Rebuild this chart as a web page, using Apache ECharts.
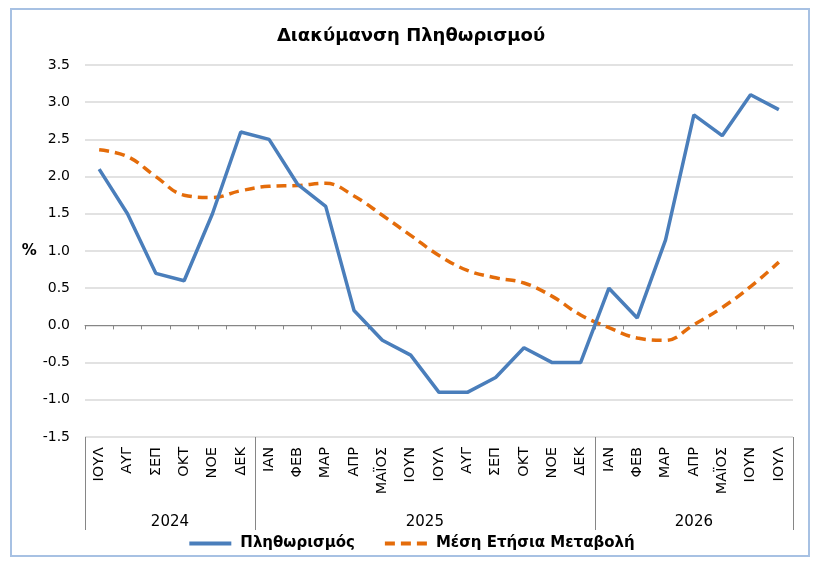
<!DOCTYPE html>
<html lang="el">
<head>
    <meta charset="utf-8">
    <title>Διακύμανση Πληθωρισμού</title>
    <script src="https://cdn.jsdelivr.net/npm/echarts@6/dist/echarts.min.js"></script>
    <style>
        html, body { margin: 0; padding: 0; background: #fff; }
        #main { width: 822px; height: 570px; }
    </style>
</head>
<body>
    <div id="main"></div>
    <script type="text/javascript">
        // μήνες (Ιούλ 2024 - Ιούλ 2026)
        var months = ['ΙΟΥΛ', 'ΑΥΓ', 'ΣΕΠ', 'ΟΚΤ', 'ΝΟΕ', 'ΔΕΚ',
            'ΙΑΝ', 'ΦΕΒ', 'ΜΑΡ', 'ΑΠΡ', 'ΜΑΪΟΣ', 'ΙΟΥΝ', 'ΙΟΥΛ', 'ΑΥΓ', 'ΣΕΠ', 'ΟΚΤ', 'ΝΟΕ', 'ΔΕΚ',
            'ΙΑΝ', 'ΦΕΒ', 'ΜΑΡ', 'ΑΠΡ', 'ΜΑΪΟΣ', 'ΙΟΥΝ', 'ΙΟΥΛ'];
        var years = ['2024', '2025', '2026'];
        var monthsPerYear = [6, 12, 7];

        var inflation = [2.1, 1.5, 0.7, 0.6, 1.5, 2.6,
            2.5, 1.9, 1.6, 0.2, -0.2, -0.4, -0.9, -0.9, -0.7, -0.3, -0.5, -0.5,
            0.5, 0.1, 1.15, 2.83, 2.55, 3.1, 2.9];
        var avgAnnual = [2.36, 2.27, 2.0, 1.75, 1.72, 1.81,
            1.87, 1.88, 1.91, 1.74, 1.48, 1.21, 0.94, 0.74, 0.64, 0.57, 0.39, 0.14,
            -0.03, -0.17, -0.2, 0.01, 0.24, 0.52, 0.85];

        var yTicks = { min: -1.5, max: 3.5, step: 0.5 };

        // όρια και κέντρα ετών στον άξονα
        var bounds = [0], centers = [];
        monthsPerYear.forEach(function (n) {
            var start = bounds[bounds.length - 1];
            centers.push(start + n / 2);
            bounds.push(start + n);
        });

        var myChart = echarts.init(document.getElementById('main'));
        var font = '"DejaVu Sans", sans-serif';

        myChart.setOption({
            animation: false,
            textStyle: { fontFamily: font },
            title: {
                text: 'Διακύμανση Πληθωρισμού',
                left: 'center',
                top: 22,
                textStyle: { fontSize: 18, fontWeight: 'bold', color: '#000', fontFamily: font }
            },
            graphic: [{
                type: 'rect',
                shape: { x: 11, y: 9, width: 798, height: 547 },
                style: { fill: null, stroke: '#a7c1e3', lineWidth: 2 },
                silent: true
            }],
            legend: {
                bottom: 14,
                left: 'center',
                itemWidth: 42,
                itemHeight: 10,
                itemGap: 28,
                itemStyle: { opacity: 0 },
                lineStyle: { width: 4 },
                textStyle: { fontSize: 15, fontWeight: 'bold', color: '#000', fontFamily: font, padding: [0, 0, 0, 4] },
                data: ['Πληθωρισμός', 'Μέση Ετήσια Μεταβολή']
            },
            grid: { left: 85, right: 29, top: 65, bottom: 133 },
            xAxis: [{
                type: 'category',
                data: months,
                boundaryGap: true,
                axisLine: { lineStyle: { color: '#868686', width: 1 } },
                axisTick: { show: true, interval: 0, length: 4, lineStyle: { color: '#868686' } },
                axisLabel: {
                    interval: 0,
                    rotate: 90,
                    margin: 10,
                    fontSize: 14.5,
                    color: '#000',
                    fontFamily: font
                }
            }, {
                type: 'value',
                position: 'bottom',
                offset: 0,
                min: 0,
                max: months.length,
                axisLine: { show: false },
                splitLine: { show: false },
                axisTick: {
                    show: true,
                    customValues: bounds,
                    length: 93,
                    lineStyle: { color: '#868686', width: 1 }
                },
                axisLabel: {
                    customValues: centers,
                    margin: 78,
                    fontSize: 15,
                    color: '#000',
                    fontFamily: font,
                    formatter: function (v) {
                        var i = centers.indexOf(v);
                        return i >= 0 ? years[i] : '';
                    }
                }
            }],
            yAxis: {
                type: 'value',
                min: yTicks.min,
                max: yTicks.max,
                interval: yTicks.step,
                name: '%',
                nameLocation: 'middle',
                nameRotate: 0,
                nameGap: 46,
                nameTextStyle: { fontSize: 15, fontWeight: 'bold', color: '#000', fontFamily: font },
                axisLine: { show: false },
                axisTick: { show: false },
                axisLabel: {
                    margin: 15,
                    fontSize: 14,
                    color: '#000',
                    fontFamily: font,
                    formatter: function (v) { return v.toFixed(1); }
                },
                splitLine: { lineStyle: { color: '#d9d9d9', width: 1.5 } }
            },
            series: [{
                name: 'Πληθωρισμός',
                type: 'line',
                data: inflation,
                symbol: 'none',
                lineStyle: { color: '#4a7ebb', width: 3.5 },
                itemStyle: { color: '#4a7ebb' },
                z: 3
            }, {
                name: 'Μέση Ετήσια Μεταβολή',
                type: 'line',
                data: avgAnnual,
                symbol: 'none',
                smooth: 0.4,
                lineStyle: { color: '#e46c0a', width: 3.5, type: [10, 6] },
                itemStyle: { color: '#e46c0a' },
                z: 2
            }]
        });
    </script>
</body>
</html>
